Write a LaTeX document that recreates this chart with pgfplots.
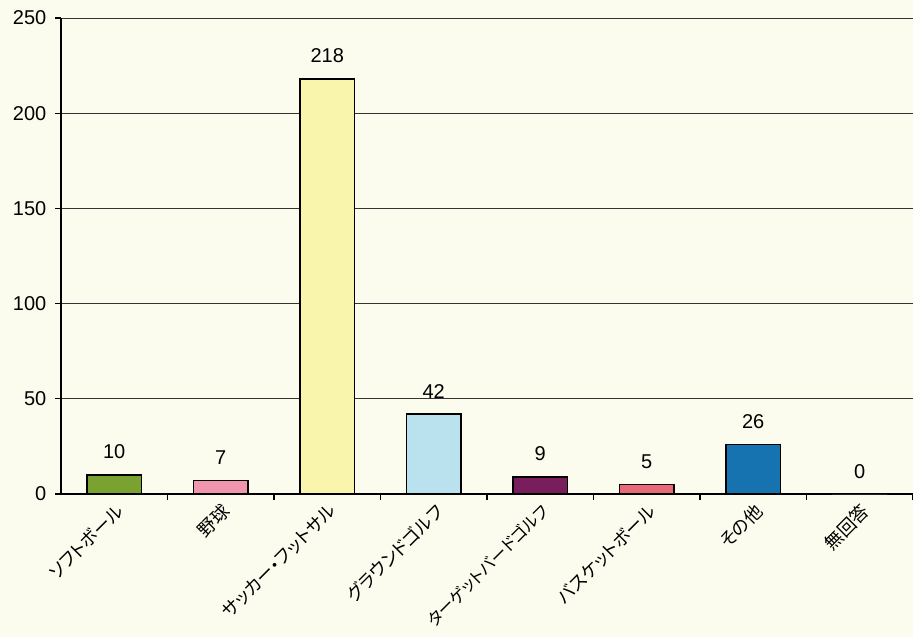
\documentclass[border=0pt]{standalone}
\usepackage{pgfplots}
\pgfplotsset{compat=1.18}
\usepackage{fontspec}
\setmainfont{Liberation Sans}
\newfontfamily\cjk[RawFeature=+palt]{Noto Sans CJK JP}
\definecolor{paper}{RGB}{252,252,238}
\definecolor{cSoft}{RGB}{122,162,48}
\definecolor{cBase}{RGB}{240,150,172}
\definecolor{cSocc}{RGB}{250,245,172}
\definecolor{cGolf}{RGB}{186,225,238}
\definecolor{cTarg}{RGB}{120,30,92}
\definecolor{cBask}{RGB}{232,105,120}
\definecolor{cOther}{RGB}{22,115,175}
\begin{document}
\begin{tikzpicture}
\path[use as bounding box, fill=paper] (0,0) rectangle (684.75pt,477.75pt);
\begin{axis}[
  at={(45.75pt,107.25pt)}, anchor=south west,
  scale only axis, width=639pt, height=357pt,
  ybar, bar width=41pt, bar shift=0pt,
  xmin=-0.5, xmax=7.5, ymin=0, ymax=250,
  axis x line=bottom, axis y line=left,
  axis line style={-, black, line width=0.9pt},
  xtick={0,...,7},
  xticklabels={ソフトボール,野球,サッカー・フットサル,グラウンドゴルフ,{\fontsize{12.5}{12.5}\selectfont ターゲットバードゴルフ},バスケットボール,その他,無回答},
  minor xtick={0.5,1.5,...,7.5},
  major x tick style={draw=none},
  tick align=outside, tick style={black, line width=0.8pt},
  major tick length=4.5pt, minor tick length=4.5pt,
  ytick={0,50,...,250},
  ymajorgrids, major grid style={black!80, line width=0.7pt},
  /pgf/number format/assume math mode=true,
  yticklabel style={font=\fontsize{15}{15}\selectfont, xshift=-3pt},
  xticklabel style={rotate=45, anchor=north east, inner sep=1pt, font=\cjk\fontsize{13.5}{13.5}\selectfont},
  nodes near coords,
  nodes near coords style={font=\fontsize{15}{15}\selectfont, yshift=8pt},
  every axis plot/.append style={draw=black, line width=1pt},
]
\addplot[fill=cSoft] coordinates {(0,10)};
\addplot[fill=cBase] coordinates {(1,7)};
\addplot[fill=cSocc] coordinates {(2,218)};
\addplot[fill=cGolf] coordinates {(3,42)};
\addplot[fill=cTarg] coordinates {(4,9)};
\addplot[fill=cBask] coordinates {(5,5)};
\addplot[fill=cOther] coordinates {(6,26)};
\addplot[fill=paper, draw=none] coordinates {(7,0)};
\end{axis}
\end{tikzpicture}
\end{document}
